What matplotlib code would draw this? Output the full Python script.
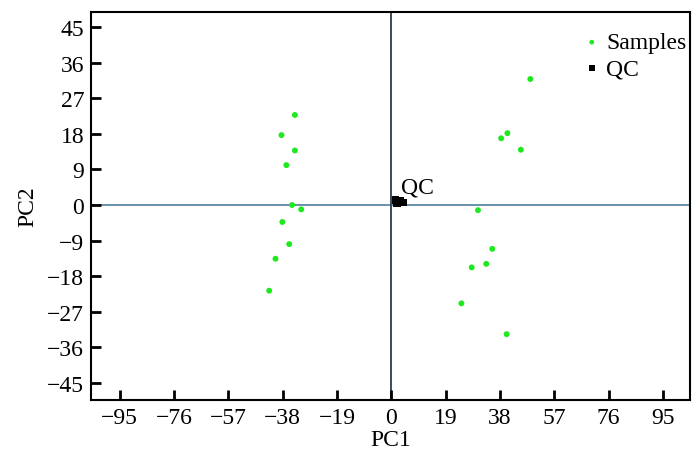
import matplotlib
matplotlib.use("Agg")
import matplotlib.pyplot as plt

plt.rcParams['font.family'] = 'serif'
plt.rcParams['font.serif'] = ['Liberation Serif', 'TeX Gyre Termes', 'DejaVu Serif']

# PCA scores
samples_pc1 = [-33.7, -38.4, -33.7, -36.7, -34.7, -31.5, -38.1, -35.7, -40.5, -42.7,
               48.6, 40.6, 38.4, 45.3, 30.3, 35.3, 33.2, 28.1, 24.5, 40.3]
samples_pc2 = [22.8, 17.7, 13.8, 10.1, 0.0, -1.1, -4.3, -9.9, -13.6, -21.7,
               31.9, 18.2, 16.9, 14.0, -1.3, -11.1, -14.9, -15.8, -24.9, -32.7]
qc_pc1 = [1.5, 2.3, 3.2, 4.0, 2.0]
qc_pc2 = [1.3, 0.8, 1.1, 0.6, 0.5]

xticks = [-95, -76, -57, -38, -19, 0, 19, 38, 57, 76, 95]
yticks = [45, 36, 27, 18, 9, 0, -9, -18, -27, -36, -45]

fig = plt.figure(figsize=(7, 4.6), dpi=100)
ax = fig.add_axes([0.13, 0.128, 0.856, 0.844])

ax.axhline(0, color='#4f7f9c', lw=1.2, zorder=1)
ax.axvline(0, color='#3a4a5c', lw=1.4, zorder=1)

ax.scatter(samples_pc1, samples_pc2, s=18, color='#1ee81e', edgecolors='none',
           label='Samples', zorder=3)
ax.scatter(qc_pc1, qc_pc2, s=30, marker='s', color='black', edgecolors='none',
           label='QC', zorder=3)
ax.text(3.5, 1.8, 'QC', fontsize=17, ha='left', va='bottom')

ax.set_xlim(-105, 104.5)
ax.set_ylim(-49.4, 48.9)
ax.set_xticks(xticks)
ax.set_yticks(yticks)
ax.set_xticklabels([str(t).replace('-', '\u2212') for t in xticks])
ax.set_yticklabels([str(t).replace('-', '\u2212') for t in yticks])
ax.tick_params(direction='in', length=7, width=2, labelsize=17, pad=5)
for sp in ax.spines.values():
    sp.set_linewidth(1.5)

ax.set_xlabel('PC1', fontsize=17, labelpad=1)
ax.set_ylabel('PC2', fontsize=17, labelpad=6)

ax.legend(loc='upper right', bbox_to_anchor=(1.013, 0.979), frameon=False,
          fontsize=17, handletextpad=0.1, markerscale=0.8, borderaxespad=0.1,
          labelspacing=0.2, handlelength=1.0)

fig.savefig('out.png', dpi=100)
